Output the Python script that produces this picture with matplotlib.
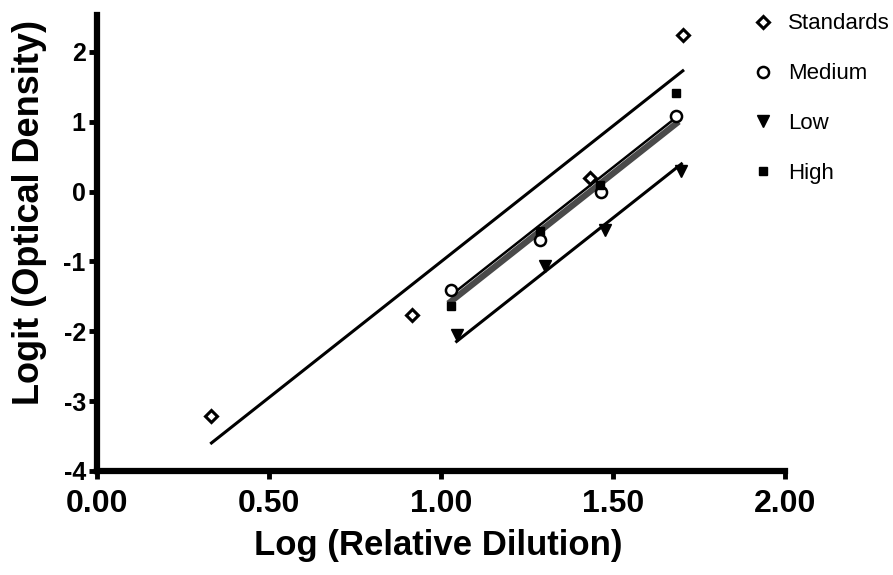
import numpy as np
import matplotlib.pyplot as plt
from matplotlib.lines import Line2D

plt.rcParams['font.family'] = ['Liberation Sans', 'DejaVu Sans']
plt.rcParams['axes.unicode_minus'] = False

# log relative dilution / logit OD for each sample
std_x = [0.333, 0.915, 1.433, 1.704]
std_y = [-3.21, -1.77, 0.20, 2.25]

med_x = [1.029, 1.290, 1.465, 1.685]
med_y = [-1.41, -0.70, -0.01, 1.08]

low_x = [1.046, 1.302, 1.477, 1.700]
low_y = [-2.06, -1.06, -0.55, 0.30]

high_x = [1.031, 1.288, 1.462, 1.685]
high_y = [-1.64, -0.57, 0.10, 1.41]

xticks = [0.0, 0.5, 1.0, 1.5, 2.0]
xtick_labels = ['0.00', '0.50', '1.00', '1.50', '2.00']
yticks = [-4, -3, -2, -1, 0, 1, 2]

groups = [(std_x, std_y), (med_x, med_y), (low_x, low_y), (high_x, high_y)]

# parallel line fit: one shared slope, separate intercepts
sxy = sum(((np.array(x) - np.mean(x)) * (np.array(y) - np.mean(y))).sum() for x, y in groups)
sxx = sum(((np.array(x) - np.mean(x)) ** 2).sum() for x, y in groups)
slope = sxy / sxx


def fit_line(x, y):
    xx = np.array([min(x), max(x)])
    return xx, np.mean(y) + slope * (xx - np.mean(x))


fig = plt.figure(figsize=(8.93, 5.75), dpi=100)
ax = fig.add_axes([0.1086, 0.181, 0.77, 0.793])

xx, yy = fit_line(std_x, std_y)
ax.plot(xx, yy, color='black', lw=2.2, zorder=2)
xx, yy = fit_line(med_x, med_y)
ax.plot(xx, yy, color='#4a4a4a', lw=4.5, zorder=2)
xx, yy = fit_line(high_x, high_y)
ax.plot(xx, yy, color='black', lw=1.8, zorder=2)
xx, yy = fit_line(low_x, low_y)
ax.plot(xx, yy, color='black', lw=2.2, zorder=2)

ax.plot(std_x, std_y, 'D', ms=6.5, mfc='white', mec='black', mew=2.2, ls='none', zorder=3)
ax.plot(med_x, med_y, 'o', ms=8, mfc='white', mec='black', mew=1.8, ls='none', zorder=3)
ax.plot(low_x, low_y, 'v', ms=9, color='black', ls='none', zorder=3)
ax.plot(high_x, high_y, 's', ms=6, color='black', ls='none', zorder=3)

ax.set_xlim(0, 2.0)
ax.set_ylim(-4, 2.53)
ax.set_xticks(xticks)
ax.set_xticklabels(xtick_labels)
ax.set_yticks(yticks)

for s in ['top', 'right']:
    ax.spines[s].set_visible(False)
for s in ['left', 'bottom']:
    ax.spines[s].set_linewidth(4.5)
ax.tick_params(direction='out', length=6, width=3.5)
ax.tick_params(axis='x', labelsize=23, pad=7)
ax.tick_params(axis='y', labelsize=18, pad=2)
for lbl in ax.get_xticklabels() + ax.get_yticklabels():
    lbl.set_fontweight('bold')

ax.set_xlabel('Log (Relative Dilution)', fontsize=25, fontweight='bold')
ax.xaxis.set_label_coords(0.496, -0.128)
ax.set_ylabel('Logit (Optical Density)', fontsize=26, fontweight='bold')
ax.yaxis.set_label_coords(-0.073, 0.567)

handles = [
    Line2D([], [], marker='D', ms=6.5, mfc='white', mec='black', mew=2.2, ls='none'),
    Line2D([], [], marker='o', ms=8, mfc='white', mec='black', mew=1.8, ls='none'),
    Line2D([], [], marker='v', ms=9, color='black', ls='none'),
    Line2D([], [], marker='s', ms=6, color='black', ls='none'),
]
fig.legend(handles, ['Standards', 'Medium', 'Low', 'High'],
           loc='upper left', bbox_to_anchor=(0.835, 0.992), frameon=False,
           fontsize=16, handlelength=0.8, handletextpad=0.7,
           labelspacing=1.3, borderaxespad=0)

fig.savefig('out.png', dpi=100)
